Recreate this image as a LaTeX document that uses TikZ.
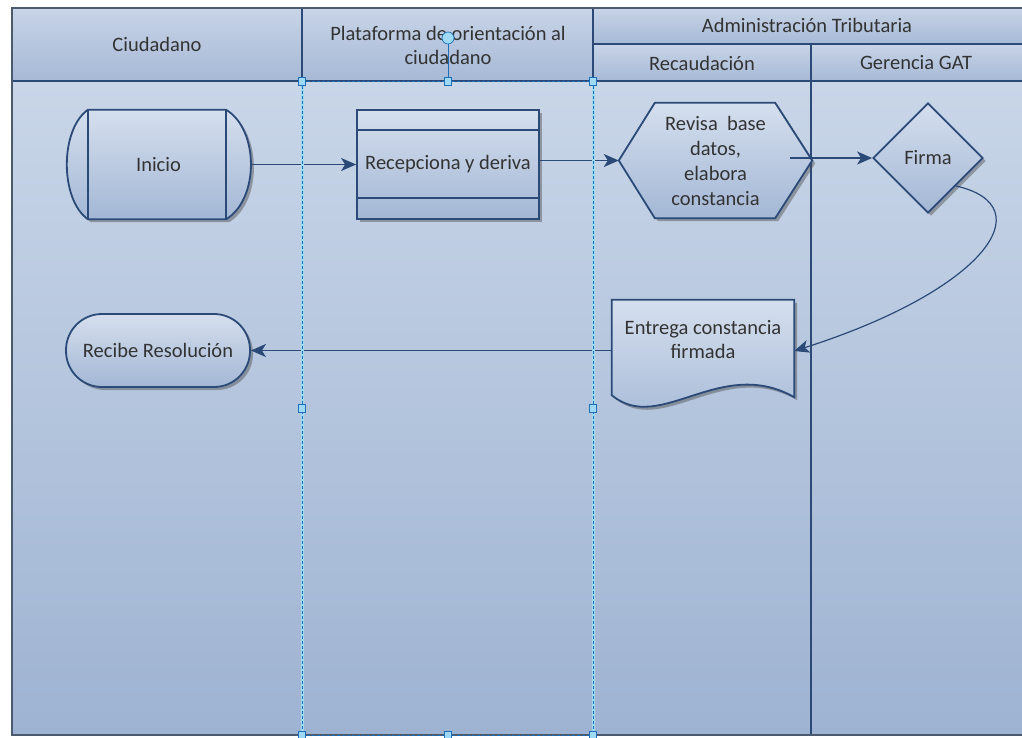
\documentclass[tikz,border=0pt]{standalone}
\usepackage{fontspec}
\setmainfont{Carlito}
\usetikzlibrary{arrows.meta,shapes.geometric,shadows}
\pgfdeclarelayer{fondo}
\pgfdeclarelayer{formas}
\pgfsetlayers{fondo,formas,main}
\definecolor{linea}{HTML}{2B4A78}
\definecolor{texto}{HTML}{333333}
\definecolor{carrilA}{HTML}{C9D6E8}
\definecolor{carrilB}{HTML}{9EB3D2}
\definecolor{cabA}{HTML}{C8D4E7}
\definecolor{cabB}{HTML}{A6B9D6}
\definecolor{formaA}{HTML}{D5DFEE}
\definecolor{formaB}{HTML}{A3B7D5}
\definecolor{selec}{HTML}{1F6FB8}
\definecolor{celeste}{HTML}{9ED9F6}
\definecolor{marco}{HTML}{4B5A6E}
\begin{document}
\begin{tikzpicture}[x=1pt,y=-1pt,font=\fontsize{20.5}{24}\selectfont,text=texto,
	forma/.style={draw=linea,line width=1.8pt,top color=formaA,bottom color=formaB,
		drop shadow={shadow xshift=3pt,shadow yshift=-3pt,opacity=0.45,fill=black!70}},
	flecha/.style={draw=linea,line width=1.6pt,-{Stealth[length=15pt,width=13pt,inset=4pt]}},
	cab/.style={top color=cabA,bottom color=cabB},
	manija/.style={draw=selec,fill=celeste,line width=0.7pt,minimum width=7pt,minimum height=8pt,inner sep=0pt},
	seleccion/.style={draw=selec,line width=1pt,dash pattern=on 3pt off 2pt}]
	\useasboundingbox (0,0) rectangle (1022,737);
	% carriles y cabeceras
	\begin{pgfonlayer}{fondo}
	\fill[white](0,0)rectangle(1022,737);
	\shade[top color=carrilA,bottom color=carrilB](12,81)rectangle(1022,735);
	\shade[cab](12,8)rectangle(302,81);
	\shade[cab](302,8)rectangle(593,81);
	\shade[cab](593,8)rectangle(1022,44);
	\shade[cab](593,44)rectangle(811,81);
	\shade[cab](811,44)rectangle(1022,81);
	\draw[linea,line width=1.5pt](12,81)--(1022,81) (593,44)--(1022,44) (302,8)--(302,81) (593,8)--(593,81) (811,44)--(811,735);
	\draw[marco,line width=2pt](1023,8)--(12,8)--(12,735)--(1023,735);
	\end{pgfonlayer}
	\node (hCiu) at (157,44) {Ciudadano};
	\node[align=center] (hPla) at (448,45) {Plataforma de orientación al\\ciudadano};
	\node (hAdm) at (807,25) {Administración Tributaria};
	\node (hRec) at (702,63) {Recaudación};
	\node (hGer) at (916,63) {Gerencia GAT};
	% formas
	\node[minimum width=185pt,minimum height=109pt,inner sep=0pt] (ini) at (158.5,164.5) {Inicio};
	\node[forma,minimum width=182pt,minimum height=109pt,inner sep=0pt] (rec) at (448,164.5) {Recepciona y deriva};
	\node[align=center,minimum width=193pt,minimum height=115pt,inner sep=0pt,font=\fontsize{20.5}{25}\selectfont] (rev) at (715.5,160.5) {Revisa\ \ base\\datos,\\elabora\\constancia};
	\node[forma,diamond,minimum width=110pt,minimum height=110pt,inner sep=0pt] (fir) at (928,158) {Firma};
	\node[align=center,minimum width=182pt,minimum height=80pt,inner sep=0pt] (ent) at (703,340) {Entrega constancia\\firmada};
	\node[forma,minimum width=184pt,minimum height=73pt,rounded corners=36pt] (rcb) at (158,350.5) {Recibe Resolución};
	\begin{pgfonlayer}{formas}
	\path[forma]([xshift=22pt]ini.north west)--([xshift=-25pt]ini.north east)..controls +(33,20) and +(33,-20)..([xshift=-25pt]ini.south east)
		--([xshift=22pt]ini.south west)..controls +(-28,-20) and +(-28,20)..([xshift=22pt]ini.north west)--cycle;
	\draw[linea,line width=1.8pt]([xshift=22pt]ini.north west)--([xshift=22pt]ini.south west) ([xshift=-25pt]ini.north east)--([xshift=-25pt]ini.south east);
	\path[forma](rev.west)--([xshift=36pt]rev.north west)--([xshift=-37pt]rev.north east)--(rev.east)
		--([xshift=-37pt]rev.south east)--([xshift=36pt]rev.south west)--cycle;
	\path[forma](ent.north west)--(ent.north east)--([yshift=-17pt]ent.south east)..controls +(-74,-42) and +(48,40)..([yshift=-15pt]ent.south west)--cycle;
	\end{pgfonlayer}
	\draw[linea,line width=1.8pt]([yshift=-21pt]rec.north west)--([yshift=-21pt]rec.north east) ([yshift=22pt]rec.south west)--([yshift=22pt]rec.south east);
	% conectores
	\coordinate (revSal) at ([xshift=-22pt]rev.east);
	\draw[flecha](ini.east)--(rec.west);
	\draw[flecha](rec.east |- rev.west)--(rev.west);
	\draw[flecha](revSal |- fir.west)--(fir.west);
	\draw[flecha,line width=1.2pt](fir.south east)..controls +(88,20) and +(191,-61)..([yshift=-11pt]ent.east);
	\draw[flecha](ent.west |- rcb.east)--(rcb.east);
	% seleccion
	\draw[celeste,line width=3pt](302,81)--(302,735) (593,81)--(593,735);
	\draw[seleccion](302,81)--(302,735) (593,81)--(593,735) (302,81)--(593,81) (302,735)--(593,735);
	\foreach \hx/\hy [count=\i] in {302/81,448/81,593/81,302/408,593/408,302/735,448/735,593/735}
	\node[manija] (asa\i) at (\hx,\hy) {};
	\node[manija,circle,minimum size=12pt] (giro) at (448,38) {};
	\draw[selec,line width=0.7pt](giro)--(asa2);
\end{tikzpicture}
\end{document}
